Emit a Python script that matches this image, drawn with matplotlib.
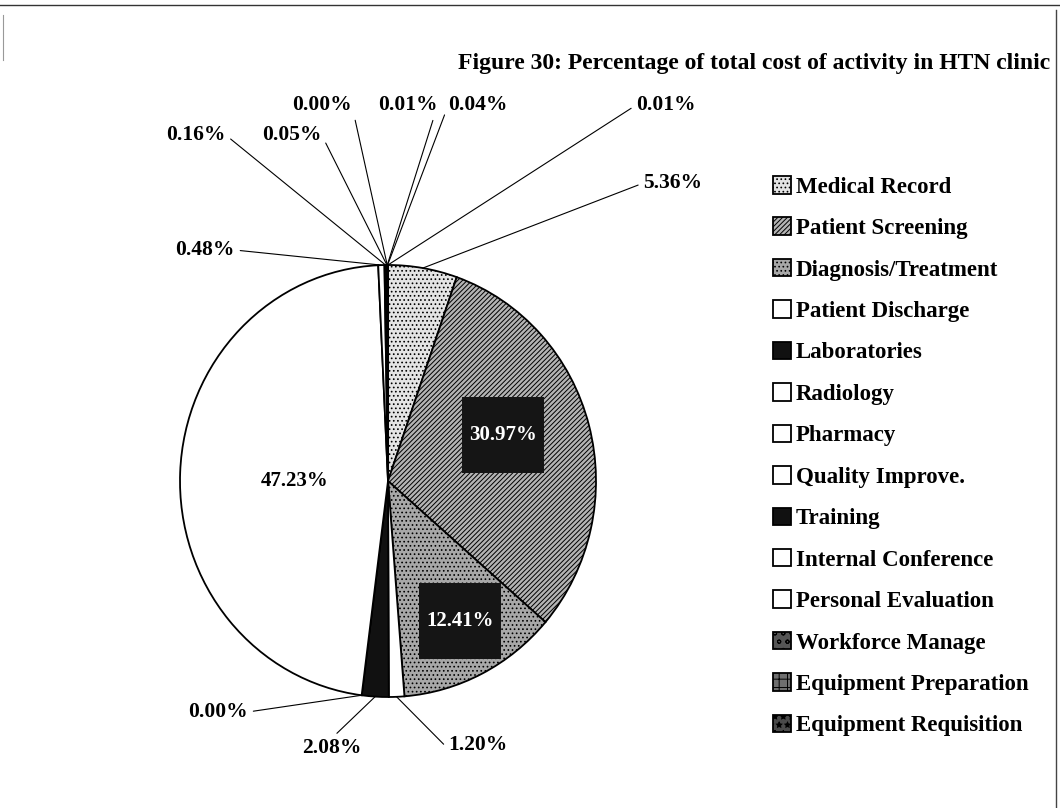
import matplotlib
matplotlib.use("Agg")
import matplotlib.pyplot as plt
from matplotlib.lines import Line2D
import numpy as np

# data (clockwise from 12 o'clock)
activities = ["Medical Record", "Patient Screening", "Diagnosis/Treatment",
              "Patient Discharge", "Laboratories", "Radiology", "Pharmacy",
              "Quality Improve.", "Training", "Internal Conference",
              "Personal Evaluation", "Workforce Manage", "Equipment Preparation",
              "Equipment Requisition"]
percent = [5.36, 30.97, 12.41, 1.20, 2.08, 0.00, 47.23,
           0.48, 0.16, 0.05, 0.00, 0.01, 0.04, 0.01]

# styles
fills = ["#e4e4e4", "#b4b4b4", "#a8a8a8", "#ffffff", "#111111", "#ffffff", "#ffffff",
         "#ffffff", "#111111", "#ffffff", "#ffffff", "#555555", "#6e6e6e", "#4a4a4a"]
hatches = ["....", "///////", "....", None, None, None, None,
           None, None, None, None, "oo", "++", "**"]

W, H = 1060, 808
plt.rcParams["font.family"] = ["Liberation Serif", "DejaVu Serif"]
plt.rcParams["font.weight"] = "bold"
plt.rcParams["hatch.linewidth"] = 0.7

fig = plt.figure(figsize=(W / 100, H / 100), dpi=100)

# pie centre (388, 481) px, radii 208 x 216 px
cx, cy, rx, ry = 388, 481, 208, 216
ax = fig.add_axes([(cx - rx) / W, (H - cy - ry) / H, 2 * rx / W, 2 * ry / H])

wedges, _ = ax.pie(percent, startangle=90, counterclock=False, radius=1,
                   colors=fills, wedgeprops=dict(edgecolor="black", linewidth=1.3))
for w, h in zip(wedges, hatches):
    if h:
        w.set_hatch(h)
ax.set_aspect("auto")
ax.set_xlim(-1, 1)
ax.set_ylim(-1, 1)
ax.axis("off")


def mid_angle(w):
    return np.deg2rad((w.theta1 + w.theta2) / 2)


# labels inside the big slices: index -> (x, y in pie units, boxed)
inner = {1: (0.553, 0.213, True), 2: (0.346, -0.650, True), 6: (-0.45, 0.0, False)}
for i, (lx, ly, boxed) in inner.items():
    txt = f"{percent[i]:.2f}%"
    if boxed:
        ax.text(lx, ly, "\n" + txt + "\n", ha="center", va="center",
                color="white", fontsize=15, fontweight="bold", linespacing=1.05,
                bbox=dict(boxstyle="square,pad=0.35", fc="#151515", ec="none"))
    else:
        ax.text(lx, ly, txt, ha="center", va="center",
                color="black", fontsize=15, fontweight="bold")

# outer labels: index -> (x px, y px from top, relpos)
outer = {
    0: (673, 183, (0, 0.5)),
    3: (478, 745, (0, 0.3)),
    4: (332, 748, (0.5, 1.0)),
    5: (218, 712, (1, 0.5)),
    7: (205, 250, (1, 0.5)),
    8: (196, 135, (1, 0.5)),
    9: (292, 135, (1, 0.5)),
    10: (322, 105, (1, 0.5)),
    11: (408, 105, (1, 0.5)),
    12: (478, 105, (0, 0.5)),
    13: (666, 105, (0, 0.5)),
}
for i, (px, py, rel) in outer.items():
    a = mid_angle(wedges[i])
    ax.annotate(f"{percent[i]:.2f}%", xy=(np.cos(a), np.sin(a)), xycoords="data",
                xytext=(px, H - py), textcoords="figure pixels",
                ha="center", va="center", fontsize=15.5, fontweight="bold",
                annotation_clip=False,
                arrowprops=dict(arrowstyle="-", color="black", lw=0.8,
                                shrinkA=2, shrinkB=0, relpos=rel))

fig.text(1050 / W, 1 - 63 / H,
         "Figure 30: Percentage of total cost of activity in HTN clinic",
         ha="right", va="center", fontsize=17, fontweight="bold")

fig.legend(wedges, activities, loc="upper left",
           bbox_to_anchor=(773 / W, 1 - 176 / H), frameon=False,
           fontsize=16.5, handlelength=0.8, handleheight=0.8,
           handletextpad=0.2, labelspacing=0.86, borderpad=0, borderaxespad=0)

# page frame
fig.add_artist(Line2D([0, 1], [1 - 5 / H, 1 - 5 / H], transform=fig.transFigure,
                      color="#333333", lw=1.0))
fig.add_artist(Line2D([1056 / W, 1056 / W], [0, 1 - 10 / H], transform=fig.transFigure,
                      color="#444444", lw=1.0))
fig.add_artist(Line2D([3 / W, 3 / W], [1 - 60 / H, 1 - 15 / H], transform=fig.transFigure,
                      color="#999999", lw=0.8))

fig.savefig("out.png", dpi=100)
